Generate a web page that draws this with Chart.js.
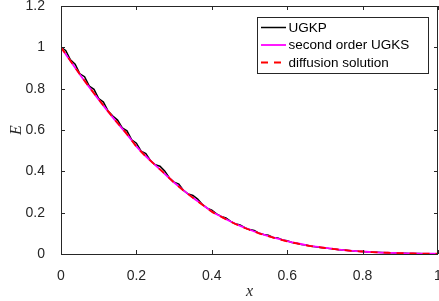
<!DOCTYPE html>
<html>
<head>
<meta charset="utf-8">
<script src="https://cdn.jsdelivr.net/npm/chart.js@4"></script>
<style>
  html, body { margin: 0; padding: 0; background: #fff; }
  #wrap { width: 439px; height: 301px; position: relative; }
</style>
</head>
<body>
<div id="wrap"><canvas id="c" width="439" height="301"></canvas></div>
<script>
// ---- data ----
const seriesNames = ["UGKP", "second order UGKS", "diffusion solution"];
const xTicks = ["0", "0.2", "0.4", "0.6", "0.8", "1"];
const yTicks = ["0", "0.2", "0.4", "0.6", "0.8", "1", "1.2"];

const xFine = [0,0.0125,0.025,0.0375,0.05,0.0625,0.075,0.0875,0.1,0.1125,0.125,0.1375,0.15,0.1625,0.175,0.1875,0.2,0.2125,0.225,0.2375,0.25,0.2625,0.275,0.2875,0.3,0.3125,0.325,0.3375,0.35,0.3625,0.375,0.3875,0.4,0.4125,0.425,0.4375,0.45,0.4625,0.475,0.4875,0.5,0.5125,0.525,0.5375,0.55,0.5625,0.575,0.5875,0.6,0.6125,0.625,0.6375,0.65,0.6625,0.675,0.6875,0.7,0.7125,0.725,0.7375,0.75,0.7625,0.775,0.7875,0.8,0.8125,0.825,0.8375,0.85,0.8625,0.875,0.8875,0.9,0.9125,0.925,0.9375,0.95,0.9625,0.975,0.9875,1];
const ugkp = [1.000,0.985,0.940,0.918,0.872,0.858,0.812,0.797,0.752,0.735,0.692,0.668,0.648,0.610,0.596,0.552,0.536,0.498,0.486,0.452,0.432,0.425,0.402,0.368,0.348,0.338,0.308,0.290,0.283,0.266,0.240,0.222,0.212,0.194,0.182,0.175,0.158,0.146,0.141,0.127,0.118,0.114,0.101,0.094,0.091,0.080,0.078,0.068,0.064,0.056,0.052,0.046,0.043,0.038,0.035,0.031,0.029,0.026,0.024,0.021,0.019,0.017,0.015,0.013,0.012,0.010,0.009,0.008,0.007,0.006,0.0055,0.0048,0.004,0.0035,0.003,0.0025,0.002,0.0018,0.0015,0.0012,0.001];

const xCoarse = [0,0.025,0.05,0.075,0.1,0.125,0.15,0.175,0.2,0.225,0.25,0.275,0.3,0.325,0.35,0.375,0.4,0.425,0.45,0.475,0.5,0.525,0.55,0.575,0.6,0.625,0.65,0.675,0.7,0.725,0.75,0.775,0.8,0.825,0.85,0.875,0.9,0.925,0.95,0.975,1];
const ugks = [1.000,0.934,0.869,0.807,0.747,0.689,0.633,0.579,0.521,0.473,0.430,0.388,0.346,0.308,0.272,0.239,0.206,0.181,0.157,0.136,0.118,0.101,0.087,0.074,0.062,0.052,0.043,0.036,0.030,0.024,0.019,0.015,0.012,0.009,0.007,0.0055,0.004,0.003,0.002,0.0015,0.001];
const diffusion = [1.000,0.935,0.870,0.808,0.748,0.690,0.634,0.580,0.520,0.472,0.430,0.389,0.345,0.307,0.272,0.238,0.205,0.180,0.156,0.135,0.117,0.100,0.086,0.073,0.061,0.051,0.042,0.035,0.029,0.024,0.019,0.015,0.012,0.009,0.007,0.0055,0.004,0.003,0.002,0.0015,0.001];

const toXY = (xs, ys) => xs.map((x, i) => ({ x: x, y: ys[i] }));

const AXIS = '#262626';
const TICKFONT = { family: "'Liberation Sans', Arial, sans-serif", size: 14 };

// box + inward ticks + legend
const matlabAxes = {
  id: 'matlabAxes',
  afterDraw(chart) {
    const ctx = chart.ctx, a = chart.chartArea;
    const sx = chart.scales.x, sy = chart.scales.y;
    ctx.save();
    ctx.strokeStyle = AXIS;
    ctx.lineWidth = 1;
    ctx.beginPath();
    ctx.rect(Math.round(a.left) + 0.5, Math.round(a.top) + 0.5, Math.round(a.right - a.left) - 1, Math.round(a.bottom - a.top));
    ctx.stroke();
    const tl = 4;
    ctx.beginPath();
    sx.ticks.forEach(t => {
      const px = Math.round(sx.getPixelForValue(t.value)) + 0.5;
      ctx.moveTo(px, a.bottom); ctx.lineTo(px, a.bottom - tl);
      ctx.moveTo(px, a.top); ctx.lineTo(px, a.top + tl);
    });
    sy.ticks.forEach(t => {
      const py = Math.round(sy.getPixelForValue(t.value)) + 0.5;
      ctx.moveTo(a.left, py); ctx.lineTo(a.left + tl, py);
      ctx.moveTo(a.right, py); ctx.lineTo(a.right - tl, py);
    });
    ctx.stroke();

    // legend
    const lx = 257.5, ly = 17.5, lw = 171, lh = 56;
    ctx.fillStyle = '#fff';
    ctx.fillRect(lx, ly, lw, lh);
    ctx.strokeStyle = AXIS;
    ctx.strokeRect(lx, ly, lw, lh);
    const rows = [27.5, 45, 62.5];
    const ds = chart.data.datasets;
    ctx.font = "13.5px 'Liberation Sans', Arial, sans-serif";
    ctx.textBaseline = 'middle';
    ctx.textAlign = 'left';
    seriesNames.forEach((name, i) => {
      const d = ds[i];
      ctx.strokeStyle = d.borderColor;
      ctx.lineWidth = d.borderWidth;
      ctx.setLineDash(d.borderDash || []);
      ctx.beginPath();
      ctx.moveTo(261, rows[i]); ctx.lineTo(286, rows[i]);
      ctx.stroke();
      ctx.setLineDash([]);
      ctx.fillStyle = '#000';
      ctx.fillText(name, 288.5, rows[i] + 0.5);
    });
    ctx.restore();
  }
};

new Chart(document.getElementById('c'), {
  type: 'line',
  data: {
    datasets: [
      { label: seriesNames[0], data: toXY(xFine, ugkp), borderColor: '#000000', borderWidth: 1.5, pointRadius: 0, tension: 0, order: 3 },
      { label: seriesNames[1], data: toXY(xCoarse, ugks), borderColor: '#ff00ff', borderWidth: 1.8, pointRadius: 0, cubicInterpolationMode: 'monotone', order: 2 },
      { label: seriesNames[2], data: toXY(xCoarse, diffusion), borderColor: '#ff0000', borderWidth: 1.8, borderDash: [7, 6], pointRadius: 0, cubicInterpolationMode: 'monotone', order: 1 }
    ]
  },
  options: {
    responsive: false,
    animation: false,
    devicePixelRatio: 1,
    layout: { padding: { left: 0, right: 1, top: 6, bottom: 0 } },
    plugins: { legend: { display: false }, tooltip: { enabled: false } },
    scales: {
      x: {
        type: 'linear', min: 0, max: 1,
        grid: { display: false }, border: { display: false },
        ticks: { stepSize: 0.2, color: AXIS, font: TICKFONT, padding: 6, maxRotation: 0,
          callback: (v, i) => xTicks[i] },
        title: { display: true, text: 'x', color: AXIS, padding: { top: 4, bottom: 0 },
          font: { family: "'Liberation Serif', 'Times New Roman', serif", size: 16, style: 'italic' } },
        afterFit(s) { s.height = 47; s.paddingLeft = 0; s.paddingRight = 0; }
      },
      y: {
        type: 'linear', min: 0, max: 1.2,
        grid: { display: false }, border: { display: false },
        ticks: { stepSize: 0.2, color: AXIS, font: TICKFONT, padding: 8,
          callback: (v, i) => yTicks[i] },
        title: { display: true, text: 'E', color: AXIS, padding: { top: 7, bottom: 0 },
          font: { family: "'Liberation Serif', 'Times New Roman', serif", size: 16, style: 'italic' } },
        afterFit(s) { s.width = 61; s.paddingTop = 0; s.paddingBottom = 0; }
      }
    }
  },
  plugins: [matlabAxes]
});
</script>
</body>
</html>
